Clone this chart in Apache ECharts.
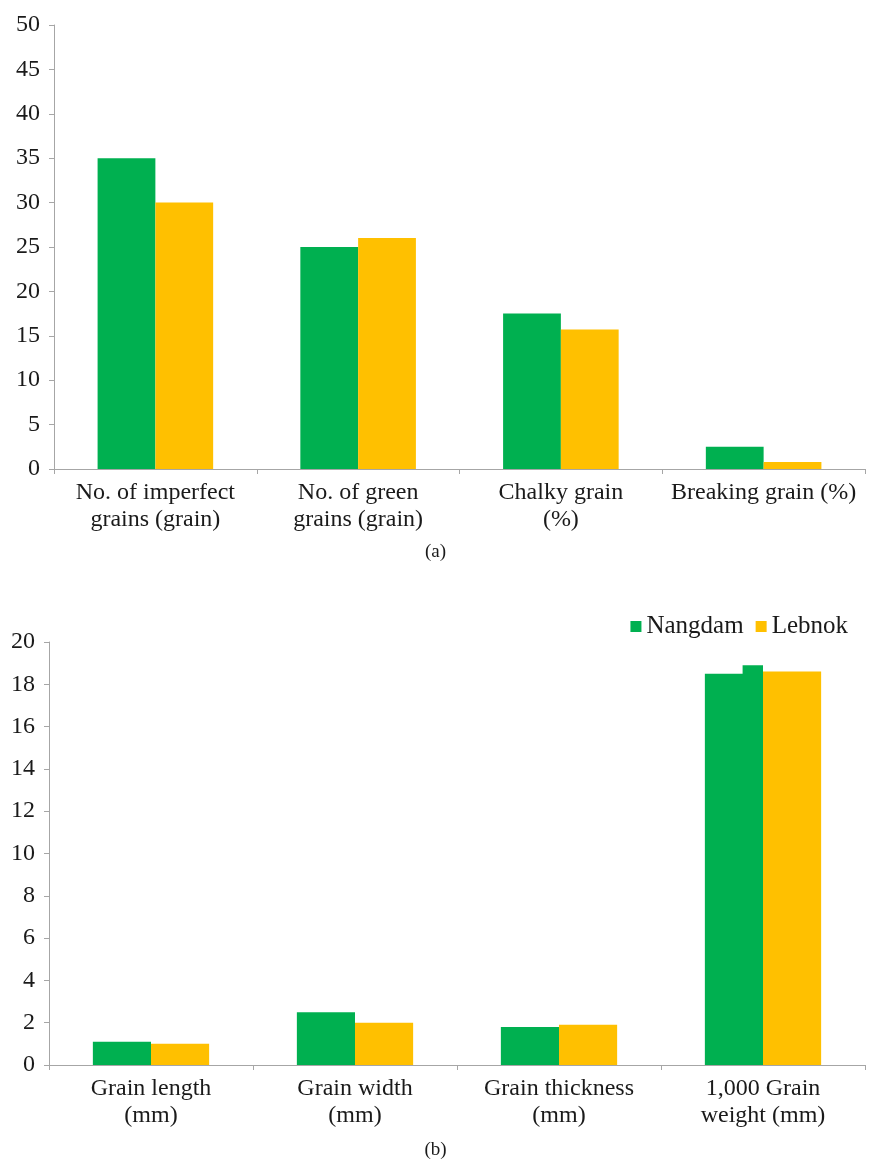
<!DOCTYPE html>
<html lang="en">
<head>
    <meta charset="UTF-8">
    <title>Grain quality</title>
    <script src="https://cdn.jsdelivr.net/npm/echarts@6/dist/echarts.min.js"></script>
    <style>
        html, body {margin: 0; padding: 0; background: #fff;}
        #chart {width: 871px; height: 1160px;}
    </style>
</head>
<body>
<div id="chart"></div>
<script>
    // (a) quality
    var catsA = ['No. of imperfect\ngrains (grain)', 'No. of green\ngrains (grain)', 'Chalky grain\n(%)', 'Breaking grain (%)'];
    var nangdamA = [35, 25, 17.5, 2.5];
    var lebnokA = [30, 26, 15.7, 0.8];
    // (b) size / weight
    var catsB = ['Grain length\n(mm)', 'Grain width\n(mm)', 'Grain thickness\n(mm)', '1,000 Grain\nweight (mm)'];
    var nangdamB = [1.1, 2.5, 1.8, 18.5];
    var lebnokB = [1.0, 2.0, 1.9, 18.6];
    // small step on top of the last green bar
    var nangdamStep = [[3, 18.9]];

    var green = '#00b050', yellow = '#ffc000';
    var font = '"Liberation Serif", "DejaVu Serif", serif';
    var axisColor = '#a6a6a6';

    function xAx(idx, cats) {
        return {
            type: 'category', gridIndex: idx, data: cats,
            axisLine: {lineStyle: {color: axisColor}},
            axisTick: {show: true, length: 5, lineStyle: {color: axisColor}},
            axisLabel: {color: '#1a1a1a', fontFamily: font, fontSize: 24, lineHeight: 27, margin: 10, interval: 0}
        };
    }
    function yAx(idx, max, step) {
        return {
            type: 'value', gridIndex: idx, min: 0, max: max, interval: step,
            axisLine: {show: true, lineStyle: {color: axisColor}},
            axisTick: {show: true, length: 5, lineStyle: {color: axisColor}},
            splitLine: {show: false},
            axisLabel: {color: '#1a1a1a', fontFamily: font, fontSize: 24, margin: 14}
        };
    }
    function bar(name, idx, data, color) {
        return {
            name: name, type: 'bar', xAxisIndex: idx, yAxisIndex: idx, data: data,
            barGap: '0%', barCategoryGap: '43%', itemStyle: {color: color}
        };
    }

    var chart = echarts.init(document.getElementById('chart'));
    chart.setOption({
        animation: false,
        title: [
            {text: '(a)', left: 'center', top: 538, textStyle: {fontFamily: font, fontSize: 19, fontWeight: 'normal', color: '#1a1a1a'}},
            {text: '(b)', left: 'center', top: 1136, textStyle: {fontFamily: font, fontSize: 19, fontWeight: 'normal', color: '#1a1a1a'}}
        ],
        legend: {
            data: ['Nangdam', 'Lebnok'], right: 18, top: 609,
            icon: 'rect', itemWidth: 11, itemHeight: 11, itemGap: 12,
            textStyle: {fontFamily: font, fontSize: 25, color: '#1a1a1a'}
        },
        grid: [
            {left: 54, right: 6, top: 25, bottom: 691},
            {left: 49, right: 6, top: 642, bottom: 95}
        ],
        xAxis: [xAx(0, catsA), xAx(1, catsB)],
        yAxis: [yAx(0, 50, 5), yAx(1, 20, 2)],
        series: [
            bar('Nangdam', 0, nangdamA, green),
            bar('Lebnok', 0, lebnokA, yellow),
            bar('Nangdam', 1, nangdamB, green),
            bar('Lebnok', 1, lebnokB, yellow),
            {
                name: 'Nangdam', type: 'custom', xAxisIndex: 1, yAxisIndex: 1, data: nangdamStep,
                itemStyle: {color: green},
                renderItem: function(params, api) {
                    var top = api.coord([api.value(0), api.value(1)]);
                    var base = api.coord([api.value(0), 0]);
                    var w = api.size([1, 0])[0] * 0.1;
                    return {
                        type: 'rect',
                        shape: {x: top[0] - w, y: top[1], width: w, height: base[1] - top[1]},
                        style: {fill: green}
                    };
                }
            }
        ]
    });
</script>
</body>
</html>
